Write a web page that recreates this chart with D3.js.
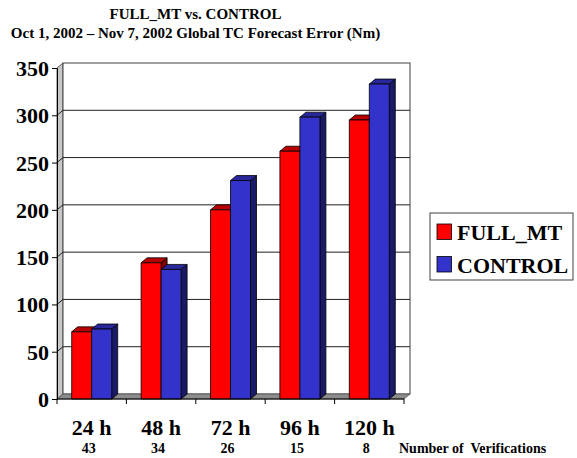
<!DOCTYPE html>
<html>
<head>
<meta charset="utf-8">
<script src="https://cdn.jsdelivr.net/npm/d3@7"></script>
<style>
  body { margin: 0; background: #fff; }
  svg { display: block; }
  svg text { font-family: "Liberation Serif", "Times New Roman", serif; font-weight: bold; }
</style>
</head>
<body>
<svg id="chart" width="577" height="458"></svg>
<script>
// chart values
var categories = ["24 h", "48 h", "72 h", "96 h", "120 h"];
var counts = [43, 34, 26, 15, 8];
var seriesNames = ["FULL_MT", "CONTROL"];
var fullMT = [71, 144, 200, 262, 295];
var control = [74, 137, 231, 298, 333];
var yTicks = [0, 50, 100, 150, 200, 250, 300, 350];

var colors = {
    FULL_MT: { front: "#ff0000", top: "#b80000", side: "#800000" },
    CONTROL: { front: "#3333cc", top: "#28289a", side: "#1a1a66" }
};

// 3d depth offset
var dx = 6, dy = -5;
// big labels are drawn small and scaled up (the serif face swaps out at large pixel sizes)
var bigScale = 2, bigSize = 11;

var svg = d3.select("#chart");

var x0 = d3.scaleBand()
    .domain(categories)
    .range([57, 404])
    .paddingInner(0)
    .paddingOuter(0);

var x1 = d3.scaleBand()
    .domain(seriesNames)
    .range([x0.bandwidth() / 2 - 20, x0.bandwidth() / 2 + 20]);

var y = d3.scaleLinear()
    .domain([0, 350])
    .range([399, 68]);

var x0min = x0.range()[0], x0max = x0.range()[1];

// side wall (left)
svg.append("path")
    .attr("d", "M" + x0min + "," + y(350) + "L" + (x0min + dx) + "," + (y(350) + dy) +
        "L" + (x0min + dx) + "," + (y(0) + dy) + "L" + x0min + "," + y(0) + "Z")
    .attr("fill", "#c8c8c8")
    .attr("stroke", "#606060")
    .attr("stroke-width", 1);

// back wall
svg.append("rect")
    .attr("x", x0min + dx)
    .attr("y", y(350) + dy)
    .attr("width", x0max - x0min)
    .attr("height", y(0) - y(350))
    .attr("fill", "#fff")
    .attr("stroke", "#404040")
    .attr("stroke-width", 1);

// gridlines on back and side wall
svg.append("g")
  .selectAll("path")
  .data(yTicks.slice(1, -1))
  .enter().append("path")
    .attr("d", function (d) {
        return "M" + x0min + "," + y(d) + "L" + (x0min + dx) + "," + (y(d) + dy) +
            "L" + (x0max + dx) + "," + (y(d) + dy);
    })
    .attr("fill", "none")
    .attr("stroke", "#202020")
    .attr("stroke-width", 1);

// floor
svg.append("path")
    .attr("d", "M" + x0min + "," + y(0) + "L" + (x0min + dx) + "," + (y(0) + dy) +
        "L" + (x0max + dx) + "," + (y(0) + dy) + "L" + x0max + "," + y(0) + "Z")
    .attr("fill", "#8c8c8c")
    .attr("stroke", "#505050")
    .attr("stroke-width", 0.8);

// bars
var rows = categories.map(function (c, i) {
    return { cat: c, values: [
        { name: "FULL_MT", value: fullMT[i] },
        { name: "CONTROL", value: control[i] }
    ] };
});

var barGroup = svg.append("g");

rows.forEach(function (row) {
    row.values.forEach(function (v) {
        var xl = x0(row.cat) + x1(v.name),
            xr = xl + x1.bandwidth(),
            yt = y(v.value),
            yb = y(0),
            c = colors[v.name];
        var g = barGroup.append("g")
            .attr("stroke", "#000")
            .attr("stroke-width", 0.8)
            .attr("stroke-linejoin", "round");
        // side
        g.append("path")
            .attr("d", "M" + xr + "," + yt + "L" + (xr + dx) + "," + (yt + dy) +
                "L" + (xr + dx) + "," + (yb + dy) + "L" + xr + "," + yb + "Z")
            .attr("fill", c.side);
        // top
        g.append("path")
            .attr("d", "M" + xl + "," + yt + "L" + (xl + dx) + "," + (yt + dy) +
                "L" + (xr + dx) + "," + (yt + dy) + "L" + xr + "," + yt + "Z")
            .attr("fill", c.top);
        // front
        g.append("rect")
            .attr("x", xl)
            .attr("y", yt)
            .attr("width", xr - xl)
            .attr("height", yb - yt)
            .attr("fill", c.front);
    });
});

// y axis (front)
var yAxis = svg.append("g")
    .attr("transform", "translate(" + x0min + ",0)")
    .call(d3.axisLeft(y).tickValues(yTicks).tickSize(5).tickPadding(3).tickFormat(d3.format("d")));
yAxis.attr("font-family", null).attr("font-size", null);
yAxis.select(".domain").attr("stroke", "#000");
yAxis.selectAll(".tick line").attr("stroke", "#000");
yAxis.selectAll("text")
    .attr("x", null)
    .attr("dy", null)
    .attr("transform", "translate(-8,7.5) scale(" + bigScale + ")")
    .attr("font-size", bigSize)
    .attr("fill", "#000");

// x axis ticks at band edges
var xEdges = categories.map(function (c) { return x0(c); }).concat([x0max]);
svg.append("g")
  .selectAll("line")
  .data(xEdges)
  .enter().append("line")
    .attr("x1", function (d) { return d; })
    .attr("x2", function (d) { return d; })
    .attr("y1", y(0))
    .attr("y2", y(0) + 5)
    .attr("stroke", "#000");

svg.append("line")
    .attr("x1", x0min).attr("x2", x0max)
    .attr("y1", y(0)).attr("y2", y(0))
    .attr("stroke", "#000");

// category labels
svg.append("g")
  .selectAll("text")
  .data(categories)
  .enter().append("text")
    .attr("transform", function (d) {
        return "translate(" + (x0(d) + x0.bandwidth() / 2) + ",435) scale(" + bigScale + ")";
    })
    .attr("text-anchor", "middle")
    .attr("font-size", bigSize)
    .text(function (d) { return d; });

// number of verifications
svg.append("g")
  .selectAll("text")
  .data(counts)
  .enter().append("text")
    .attr("x", function (d, i) { return x0(categories[i]) + x0.bandwidth() / 2 - 3; })
    .attr("y", 453)
    .attr("text-anchor", "middle")
    .attr("font-size", 14)
    .text(function (d) { return d; });

svg.append("text")
    .attr("x", 399)
    .attr("y", 453)
    .attr("font-size", 14)
    .style("white-space", "pre")
    .text("Number of  Verifications");

// titles
svg.append("text")
    .attr("x", 195.5)
    .attr("y", 19)
    .attr("text-anchor", "middle")
    .attr("font-size", 15)
    .text("FULL_MT vs. CONTROL");

svg.append("text")
    .attr("x", 195.5)
    .attr("y", 38)
    .attr("text-anchor", "middle")
    .attr("font-size", 15)
    .text("Oct 1, 2002 \u2013 Nov 7, 2002 Global TC Forecast Error (Nm)");

// legend
var legend = svg.append("g").attr("transform", "translate(430,213)");
legend.append("rect")
    .attr("width", 143)
    .attr("height", 67)
    .attr("fill", "#fff")
    .attr("stroke", "#404040")
    .attr("stroke-width", 1);

var item = legend.selectAll("g.item")
    .data(seriesNames)
  .enter().append("g")
    .attr("class", "item")
    .attr("transform", function (d, i) { return "translate(7," + (11 + i * 32.5) + ")"; });

item.append("rect")
    .attr("width", 14.5)
    .attr("height", 15.5)
    .attr("fill", function (d) { return colors[d].front; })
    .attr("stroke", "#000")
    .attr("stroke-width", 0.8);

item.append("text")
    .attr("transform", "translate(20,16) scale(" + bigScale + ")")
    .attr("font-size", bigSize)
    .text(function (d) { return d; });
</script>
</body>
</html>
